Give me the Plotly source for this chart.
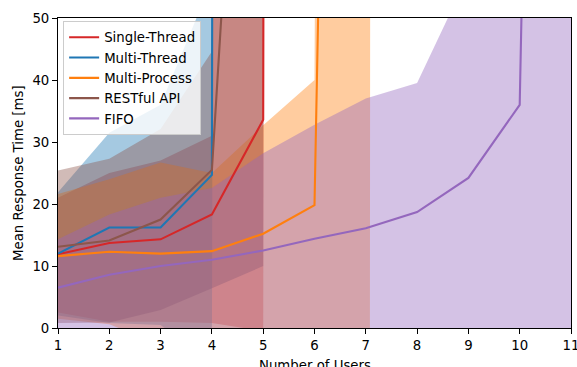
import plotly.graph_objects as go

# ---- data ----
users = [1, 2, 3, 4, 5, 6, 7, 8, 9, 10, 11]

single_mean = [11.9, 13.7, 14.3, 18.3, 33.6, 5000]
single_low = [2.5, 1.0, 1.0, 0.8, -0.5, 4000]
single_high = [21.0, 25.0, 27.0, 31.0, 3000, 6000]

mthread_mean = [12.0, 16.2, 16.2, 24.7, 5000]
mthread_low = [2.0, 0.8, 0.5, -6.0, 4000]
mthread_high = [21.9, 31.5, 36.0, 56.0, 6000]

mproc_mean = [11.6, 12.3, 12.0, 12.4, 15.2, 19.8, 450, 12000]
mproc_low = [1.5, 0.6, -2.7, -0.2, -2.3, -0.4, -870, 10000]
mproc_high = [21.6, 24.0, 26.7, 25.0, 32.7, 40.0, 1770, 14000]

rest_mean = [13.1, 14.1, 17.5, 25.5, 160, 8000]
rest_low = [0.8, 0.9, 2.9, 6.4, 10, 7000]
rest_high = [25.4, 27.3, 32.1, 44.6, 310, 9000]

fifo_mean = [6.5, 8.6, 10.0, 11.0, 12.5, 14.4, 16.1, 18.7, 24.2, 36.0, 450]
fifo_low = [-1.3, -1.1, -1.0, -0.6, -3.2, -4.0, -4.8, -2.1, -8.6, -4.0, -150]
fifo_high = [14.3, 18.3, 21.0, 22.6, 28.2, 32.8, 37.0, 39.5, 57.0, 76.0, 1050]

series_names = ["Single-Thread", "Multi-Thread", "Multi-Process", "RESTful API", "FIFO"]
x_ticks = [1, 2, 3, 4, 5, 6, 7, 8, 9, 10, 11]
y_ticks = [0, 10, 20, 30, 40, 50]

# ---- styling ----
colors = ["#d62728", "#1f77b4", "#ff7f0e", "#8c564b", "#9467bd"]
fills = ["rgba(214,39,40,0.4)", "rgba(31,119,180,0.4)", "rgba(255,127,14,0.4)",
         "rgba(140,86,75,0.4)", "rgba(148,103,189,0.4)"]
FONT = "DejaVu Sans"
FS = 13.3

series = [
    (single_mean, single_low, single_high),
    (mthread_mean, mthread_low, mthread_high),
    (mproc_mean, mproc_low, mproc_high),
    (rest_mean, rest_low, rest_high),
    (fifo_mean, fifo_low, fifo_high),
]

fig = go.Figure()

for (mean, low, high), fc in zip(series, fills):
    xs = users[:len(mean)]
    fig.add_trace(go.Scatter(
        x=xs + xs[::-1], y=high + low[::-1],
        fill="toself", fillcolor=fc, mode="lines",
        line=dict(width=0, color="rgba(0,0,0,0)"),
        showlegend=False, hoverinfo="skip"))

for (mean, low, high), name, c in zip(series, series_names, colors):
    xs = users[:len(mean)]
    fig.add_trace(go.Scatter(
        x=xs, y=mean, mode="lines", name=name,
        line=dict(color=c, width=2.1)))

W, H = 577, 367
L, R, T, B = 58, 6, 18, 39
axis_common = dict(ticks="outside", ticklen=5, tickwidth=1, tickcolor="black",
                   showline=True, linecolor="black", linewidth=1, mirror=True,
                   showgrid=False, zeroline=False, automargin=False,
                   ticklabeloverflow="allow",
                   tickfont=dict(family=FONT, size=FS, color="black"))
fig.update_layout(
    template="none",
    width=W, height=H,
    margin=dict(l=L, r=R, t=T, b=B, autoexpand=False),
    paper_bgcolor="white", plot_bgcolor="white",
    font=dict(family=FONT, size=FS, color="black"),
    showlegend=True,
    legend=dict(x=0.01, y=0.99, xanchor="left", yanchor="top",
                bgcolor="rgba(255,255,255,0.8)", bordercolor="#cccccc",
                borderwidth=1, font=dict(family=FONT, size=FS),
                tracegroupgap=0),
    xaxis=dict(range=[1, 11], tickvals=x_ticks, **axis_common),
    yaxis=dict(range=[0, 50], tickvals=y_ticks, **axis_common),
    annotations=[
        dict(text="Number of Users", xref="paper", yref="paper", x=0.5,
             y=-(356 - (H - B)) / (H - T - B), xanchor="center", yanchor="top",
             showarrow=False, font=dict(family=FONT, size=FS)),
        dict(text="Mean Response Time [ms]", xref="paper", yref="paper",
             x=(18 - L) / (W - L - R), y=0.5, xanchor="center", yanchor="middle",
             textangle=-90, showarrow=False, font=dict(family=FONT, size=FS)),
    ],
)

fig.write_html("out.html", config={"displayModeBar": False},
               post_script="document.body.style.margin='0px';")
